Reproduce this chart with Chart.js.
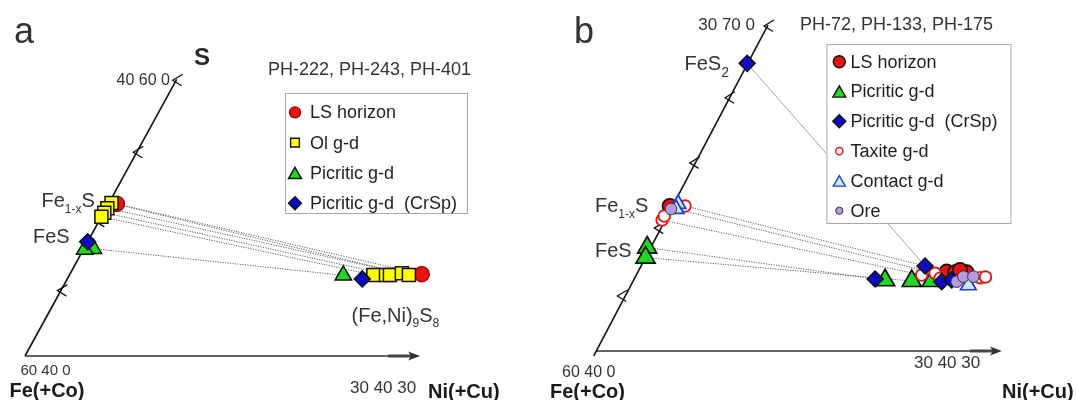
<!DOCTYPE html>
<html><head><meta charset="utf-8">
<script src="https://cdn.jsdelivr.net/npm/chart.js"></script>
<style>
html,body{margin:0;padding:0;background:#fff;overflow:hidden}
#wrap{position:relative;width:1077px;height:400px}
canvas{position:absolute;top:0}
</style></head>
<body><div id="wrap">
<canvas id="ca" width="538" height="400" style="left:0"></canvas>
<canvas id="cb" width="539" height="400" style="left:538px"></canvas>
</div>
<script>
// ===== DATA (atomic %, S and Ni; Fe = 100 - S - Ni) =====
// Panel a : PH-222, PH-243, PH-401
const aLS_S   = [50.99, 45.91];
const aLS_Ni  = [0.64, 26.72];
const aOL_S   = [51.06, 50.68, 50.36, 50.07, 45.85, 45.85, 45.85, 45.98, 45.85];
const aOL_Ni  = [0.20, 0.10, 0.05, 0.00, 23.08, 24.04, 24.34, 25.17, 25.78];
const aPIC_S  = [47.76, 47.70, 45.83];
const aPIC_Ni = [0.72, 0.10, 20.81];
const aCR_S   = [48.26, 45.57];
const aCR_Ni  = [0.00, 22.40];
const aTies   = [['LS',0,'LS',1],['OL',0,'OL',8],['OL',1,'OL',7],['OL',2,'OL',6],['OL',3,'OL',4],['PIC',0,'PIC',2]];
const aCornerFe = [60, 40, 0];
const aCornerS  = [40, 60, 0];
const aCornerNi = [30, 40, 30];
const aChevS    = [44.8, 49.8, 54.8];

// Panel b : PH-72, PH-133, PH-175
const bLS_S   = [53.34, 47.30, 47.24, 47.24, 47.45];
const bLS_Ni  = [0.00, 23.74, 24.40, 25.28, 24.68];
const bPIC_S  = [49.52, 48.60, 46.51, 46.44, 46.44];
const bPIC_Ni = [0.00, 0.29, 19.41, 21.47, 22.98];
const bCR_S   = [66.47, 46.63, 47.82, 46.38, 46.53];
const bCR_Ni  = [0.00, 18.60, 21.86, 23.77, 24.46];
const bTAX_S  = [53.34, 52.05, 52.42, 46.99, 47.15, 46.69, 46.75, 46.81];
const bTAX_Ni = [1.16, 0.00, 0.00, 21.97, 22.92, 23.50, 26.51, 26.90];
const bCON_S  = [53.53, 53.07, 46.05];
const bCON_Ni = [0.55, 0.60, 25.94];
const bORE_S  = [53.07, 46.38, 46.84, 46.84];
const bORE_Ni = [0.22, 24.91, 25.21, 25.97];
const bTies   = [['CR',0,'CR',2],['TAX',0,'CR',2],['CON',1,'TAX',4],['TAX',1,'TAX',3],['PIC',0,'PIC',2],['PIC',1,'PIC',3]];
const bCornerFe = [60, 40, 0];
const bCornerS  = [30, 70, 0];
const bCornerNi = [30, 40, 30];
const bChevS    = [45.15, 51.4, 57.4, 63.4];

// ===== helpers =====
const FONT = '"Liberation Sans", Arial, sans-serif';
const TXT = '#333';
function toXY(S, Ni, k){ return {x: Ni + k*(S-40), y: S}; }
function series(Sarr, Niarr, k){ return Sarr.map((s,i)=>toXY(s, Niarr[i], k)); }

function mark(ctx, style, x, y, r, fill, stroke, lw){
  ctx.beginPath();
  if(style==='circle'){ ctx.arc(x,y,r,0,Math.PI*2); }
  else if(style==='rect'){ const s=r*Math.SQRT1_2; ctx.rect(x-s,y-s,2*s,2*s); }
  else if(style==='triangle'){
    y += r*0.25;
    ctx.moveTo(x, y-r);
    ctx.lineTo(x + r*Math.sin(2*Math.PI/3), y - r*Math.cos(2*Math.PI/3));
    ctx.lineTo(x + r*Math.sin(4*Math.PI/3), y - r*Math.cos(4*Math.PI/3));
    ctx.closePath();
  }
  else if(style==='rectRot'){ ctx.moveTo(x-r,y); ctx.lineTo(x,y-r); ctx.lineTo(x+r,y); ctx.lineTo(x,y+r); ctx.closePath(); }
  ctx.fillStyle=fill; ctx.fill();
  ctx.lineWidth=lw; ctx.strokeStyle=stroke; ctx.stroke();
}
function rich(ctx, parts, x, y){
  ctx.textAlign='left'; ctx.textBaseline='alphabetic';
  for(const p of parts){
    ctx.font=(p.b?'bold ':'')+p.s+'px '+FONT;
    ctx.fillStyle=p.c||TXT;
    ctx.fillText(p.t, x, y+(p.dy||0));
    x += ctx.measureText(p.t).width;
  }
}

function makeChart(id, cfg){
  const k = cfg.k;
  const datasets = [];
  const byKey = {};
  for(const s of cfg.series){
    byKey[s.key] = s;
    datasets.push({
      label: s.label, data: series(s.S, s.Ni, k), showLine:false, clip:false,
      pointStyle: s.style, pointRadius: s.r, pointHoverRadius: s.r,
      pointBackgroundColor: s.fill, pointBorderColor: s.stroke, pointBorderWidth: s.lw
    });
  }
  for(const t of cfg.ties){
    const A = byKey[t[0]], B = byKey[t[2]];
    const solid = A.S[t[1]] > 60;
    datasets.push({
      label:'tie', showLine:true, clip:false, pointRadius:0,
      data:[toXY(A.S[t[1]], A.Ni[t[1]], k), toXY(B.S[t[3]], B.Ni[t[3]], k)],
      borderColor: solid ? '#8a8a8a' : '#5e5e5e', borderWidth: solid ? 0.8 : 1,
      borderDash: solid ? [] : [1.2, 1.3]
    });
  }
  const plugin = {
    id:'tern'+id,
    beforeDatasetsDraw(chart){
      const ctx = chart.ctx, xs = chart.scales.x, ys = chart.scales.y;
      const P = (S,Ni)=>{ const q=toXY(S,Ni,k); return [xs.getPixelForValue(q.x), ys.getPixelForValue(q.y)]; };
      const fe = P(cfg.cornerFe[1], 0), top = P(cfg.cornerS[1], 0), end = P(cfg.cornerFe[1], cfg.axisEndNi);
      ctx.save();
      // left (Fe-S) axis
      ctx.strokeStyle='#111'; ctx.lineWidth=1.6;
      const dx = (top[0]-fe[0])/(top[1]-fe[1]);
      ctx.beginPath(); ctx.moveTo(fe[0]-dx*cfg.leftExt, fe[1]+cfg.leftExt); ctx.lineTo(top[0], top[1]); ctx.stroke();
      // chevrons
      ctx.lineWidth=1.3;
      for(const s of cfg.chev.concat([cfg.cornerS[1]])){
        const p = P(s,0);
        ctx.beginPath();
        ctx.moveTo(p[0]+6, p[1]-5); ctx.lineTo(p[0]-4, p[1]+1); ctx.lineTo(p[0]+5, p[1]+6.5);
        ctx.stroke();
      }
      // bottom (Fe-Ni) axis with arrow
      ctx.strokeStyle='#333'; ctx.lineWidth=1.5;
      ctx.beginPath(); ctx.moveTo(fe[0]+cfg.bottomGap, end[1]); ctx.lineTo(end[0]-30, end[1]); ctx.stroke();
      ctx.strokeStyle='#444'; ctx.lineWidth=3;
      ctx.beginPath(); ctx.moveTo(end[0]-32, end[1]); ctx.lineTo(end[0]-8, end[1]); ctx.stroke();
      ctx.fillStyle='#333';
      ctx.beginPath(); ctx.moveTo(end[0], end[1]); ctx.lineTo(end[0]-12, end[1]-4.5); ctx.lineTo(end[0]-9, end[1]); ctx.lineTo(end[0]-12, end[1]+4.5); ctx.closePath(); ctx.fill();
      ctx.restore();
    },
    afterDraw(chart){
      const ctx = chart.ctx;
      ctx.save();
      cfg.texts(ctx);
      // legend box
      const L = cfg.legend;
      ctx.fillStyle='#fff'; ctx.fillRect(L.x, L.y, L.w, L.h);
      ctx.strokeStyle='#a8a8a8'; ctx.lineWidth=1; ctx.strokeRect(L.x+0.5, L.y+0.5, L.w, L.h);
      L.items.forEach((it,i)=>{
        const s = byKey[it.key], y = L.y0 + i*L.dy;
        mark(ctx, s.style, L.mx, y, it.r, s.fill, s.stroke, Math.min(s.lw,1.4));
        ctx.font='18px '+FONT; ctx.fillStyle='#1e1e1e'; ctx.textAlign='left'; ctx.textBaseline='middle';
        ctx.fillText(s.label, L.tx, y+1);
      });
      ctx.restore();
    }
  };
  return new Chart(document.getElementById(id), {
    type:'scatter',
    data:{datasets},
    options:{
      responsive:false, animation:false, devicePixelRatio:1, events:[],
      layout:{padding:0, autoPadding:false},
      plugins:{legend:{display:false}, tooltip:{enabled:false}},
      scales:{
        x:{type:'linear', display:false, min:cfg.xr[0], max:cfg.xr[1], bounds:'data'},
        y:{type:'linear', display:false, min:cfg.yr[0], max:cfg.yr[1], bounds:'data'}
      }
    },
    plugins:[plugin]
  });
}

const RED='#ee1111', YEL='#ffff00', GRN='#22d622', BLU='#0c0cc8', EDGE='#111';

// ===== Panel a =====
makeChart('ca', {
  k:0.5759, xr:[-1.898, 38.95], yr:[36.82, 65.73], axisEndNi:30, leftExt:0, bottomGap:0,
  cornerFe:aCornerFe, cornerS:aCornerS, chev:aChevS,
  series:[
    {key:'CR', label:'Picritic g-d  (CrSp)', S:aCR_S, Ni:aCR_Ni, style:'rectRot', r:8, fill:BLU, stroke:EDGE, lw:1.5},
    {key:'PIC', label:'Picritic g-d', S:aPIC_S, Ni:aPIC_Ni, style:'triangle', r:9.5, fill:GRN, stroke:EDGE, lw:1.5},
    {key:'OL', label:'Ol g-d', S:aOL_S, Ni:aOL_Ni, style:'rect', r:9.2, fill:YEL, stroke:EDGE, lw:1.5},
    {key:'LS', label:'LS horizon', S:aLS_S, Ni:aLS_Ni, style:'circle', r:7.6, fill:RED, stroke:'#8a0000', lw:1.3}
  ],
  ties:aTies,
  legend:{x:285, y:93, w:182, h:120, y0:112.3, dy:30.3, mx:295, tx:310,
    items:[{key:'LS',r:5.5},{key:'OL',r:6.2},{key:'PIC',r:7.5},{key:'CR',r:6.5}]},
  texts(ctx){
    rich(ctx,[{t:'a',s:36}],14,43);
    rich(ctx,[{t:'S',s:24,b:true,c:'#2a2a2a'}],194,65);
    rich(ctx,[{t:'PH-222, PH-243, PH-401',s:18}],268,75);
    ctx.font='16px '+FONT; ctx.fillStyle=TXT; ctx.textAlign='right'; ctx.fillText(aCornerS.join(' '),170,85);
    rich(ctx,[{t:'Fe',s:20},{t:'1-x',s:12,dy:6},{t:'S',s:20}],41.5,207);
    rich(ctx,[{t:'FeS',s:20}],33,243);
    rich(ctx,[{t:'(Fe,Ni)',s:20},{t:'9',s:12,dy:5},{t:'S',s:20},{t:'8',s:12,dy:5}],351.5,321.5);
    rich(ctx,[{t:aCornerFe.join(' '),s:15}],20.5,375);
    rich(ctx,[{t:'Fe(+Co)',s:20,b:true,c:'#1a1a1a'}],9.5,397);
    rich(ctx,[{t:aCornerNi.join(' '),s:17}],350,393);
    rich(ctx,[{t:'Ni(+Cu)',s:20,b:true,c:'#1a1a1a'}],428,398);
  }
});

// ===== Panel b =====
makeChart('cb', {
  k:0.448, xr:[-4.024, 36.90], yr:[35.49, 72.30], axisEndNi:31.2, leftExt:5, bottomGap:6,
  cornerFe:bCornerFe, cornerS:bCornerS, chev:bChevS,
  series:[
    {key:'ORE', label:'Ore', S:bORE_S, Ni:bORE_Ni, style:'circle', r:5.8, fill:'#b898e0', stroke:'#333', lw:1},
    {key:'CON', label:'Contact g-d', S:bCON_S, Ni:bCON_Ni, style:'triangle', r:9, fill:'#cde8fa', stroke:'#1f3fd0', lw:1.7},
    {key:'CR', label:'Picritic g-d  (CrSp)', S:bCR_S, Ni:bCR_Ni, style:'rectRot', r:8, fill:BLU, stroke:EDGE, lw:1.5},
    {key:'TAX', label:'Taxite g-d', S:bTAX_S, Ni:bTAX_Ni, style:'circle', r:5.8, fill:'#ffffff', stroke:'#e01818', lw:1.9},
    {key:'LS', label:'LS horizon', S:bLS_S, Ni:bLS_Ni, style:'circle', r:7.2, fill:RED, stroke:'#111', lw:1.7},
    {key:'PIC', label:'Picritic g-d', S:bPIC_S, Ni:bPIC_Ni, style:'triangle', r:11, fill:GRN, stroke:EDGE, lw:1.7}
  ],
  ties:bTies,
  legend:{x:288.5, y:44, w:184, h:179, y0:61.7, dy:29.8, mx:301.3, tx:312.5,
    items:[{key:'LS',r:6},{key:'PIC',r:7.5},{key:'CR',r:6.5},{key:'TAX',r:3.6},{key:'CON',r:7},{key:'ORE',r:3.6}]},
  texts(ctx){
    rich(ctx,[{t:'b',s:36}],36,43);
    rich(ctx,[{t:'PH-72, PH-133, PH-175',s:18}],262,30);
    ctx.font='17px '+FONT; ctx.fillStyle=TXT; ctx.textAlign='right'; ctx.fillText(bCornerS.join(' '),217,30);
    rich(ctx,[{t:'FeS',s:20},{t:'2',s:14,dy:7}],146.5,70);
    rich(ctx,[{t:'Fe',s:20},{t:'1-x',s:12,dy:6},{t:'S',s:20}],57,211.5);
    rich(ctx,[{t:'FeS',s:20}],57,256.5);
    rich(ctx,[{t:bCornerFe.join(' '),s:16}],24,377);
    rich(ctx,[{t:'Fe(+Co)',s:20,b:true,c:'#1a1a1a'}],12,398);
    rich(ctx,[{t:bCornerNi.join(' '),s:17}],376,368);
    rich(ctx,[{t:'Ni(+Cu)',s:20,b:true,c:'#1a1a1a'}],464,398);
  }
});
</script>
</body></html>
